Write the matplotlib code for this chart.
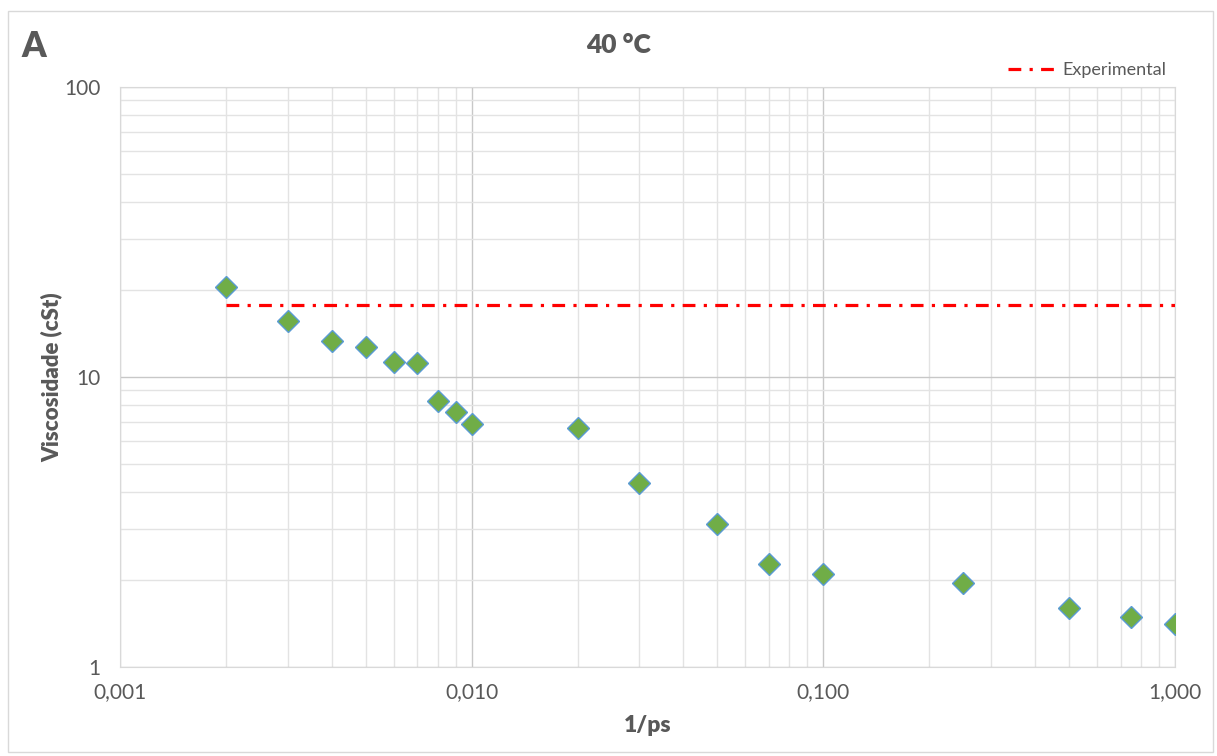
import matplotlib.pyplot as plt
from matplotlib.ticker import LogLocator, FixedLocator, NullFormatter

# data
x_ps = [0.002, 0.003, 0.004, 0.005, 0.006, 0.007, 0.008, 0.009, 0.010,
        0.02, 0.03, 0.05, 0.07, 0.1, 0.25, 0.5, 0.75, 1.0]
visc = [20.4, 15.6, 13.3, 12.7, 11.3, 11.2, 8.26, 7.57, 6.89,
        6.67, 4.31, 3.11, 2.27, 2.09, 1.95, 1.60, 1.49, 1.41]
exp_x = [0.002, 1.0]
exp_y = [17.7, 17.7]

x_ticks = [0.001, 0.01, 0.1, 1.0]
x_labels = ["0,001", "0,010", "0,100", "1,000"]
y_ticks = [1, 10, 100]
y_labels = ["1", "10", "100"]

plt.rcParams['font.family'] = ['Lato', 'DejaVu Sans']
gray = '#595959'

fig = plt.figure(figsize=(12.17, 7.56), dpi=100)
ax = fig.add_axes([120 / 1217, 1 - 667 / 756, 1055 / 1217, 580 / 756])

ax.set_xscale('log')
ax.set_yscale('log')
ax.set_xlim(0.001, 1.0)
ax.set_ylim(1, 100)

ax.plot(exp_x, exp_y, color='#FF0000', lw=2.3, dashes=(4, 2.6, 1, 2.6),
        label='Experimental', zorder=3)
ax.plot(x_ps, visc, ls='none', marker='D', ms=11, mfc='#70AD47',
        mec='#5B9BD5', mew=1.0, zorder=4)

ax.xaxis.set_major_locator(FixedLocator(x_ticks))
ax.set_xticklabels(x_labels)
ax.yaxis.set_major_locator(FixedLocator(y_ticks))
ax.set_yticklabels(y_labels)
ax.xaxis.set_minor_locator(LogLocator(base=10, subs=range(2, 10)))
ax.yaxis.set_minor_locator(LogLocator(base=10, subs=range(2, 10)))
ax.xaxis.set_minor_formatter(NullFormatter())
ax.yaxis.set_minor_formatter(NullFormatter())

ax.grid(True, which='major', color='#C8C8C8', lw=1.0)
ax.grid(True, which='minor', color='#E3E3E3', lw=1.0)
ax.set_axisbelow(True)
ax.tick_params(which='both', length=0, labelsize=15, colors=gray)
ax.tick_params(axis='x', pad=11)
ax.tick_params(axis='y', pad=14)
for s in ax.spines.values():
    s.set_color('#D9D9D9')

ax.set_xlabel('1/ps', fontsize=16.5, fontweight='heavy', color=gray, labelpad=9)
ax.set_ylabel('Viscosidade (cSt)', fontsize=16, fontweight='heavy', color=gray,
              labelpad=1)
fig.text(0.508, 0.941, '40 °C', ha='center', va='center', fontsize=19,
         fontweight='heavy', color=gray)
fig.text(0.018, 0.938, 'A', ha='left', va='center', fontsize=25,
         fontweight='heavy', color=gray)

leg = ax.legend(loc='lower right', bbox_to_anchor=(1.0, 1.0), frameon=False,
                fontsize=13, handlelength=2.8, handletextpad=0.2,
                borderaxespad=0.1)
for t in leg.get_texts():
    t.set_color(gray)

fig.patches.append(plt.Rectangle((8 / 1217, 1 - 752 / 756), 1205 / 1217,
                                 741 / 756, transform=fig.transFigure,
                                 fill=False, ec='#D9D9D9', lw=1.0))

fig.savefig('out.png', dpi=100)
